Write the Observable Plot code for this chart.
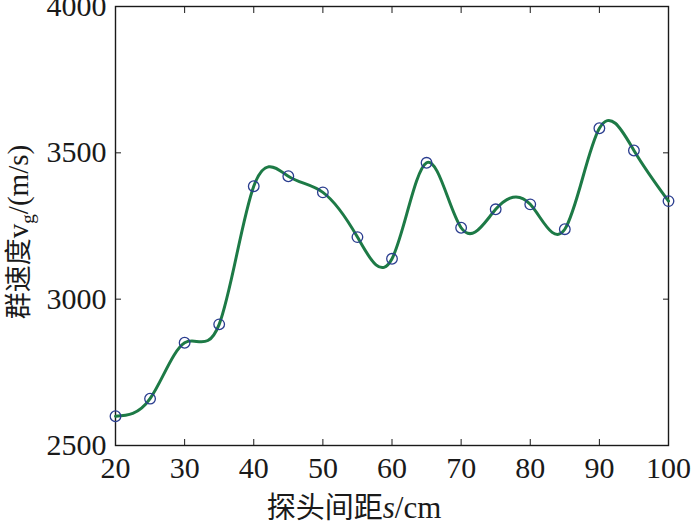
<!DOCTYPE html>
<html>
<head>
<meta charset="utf-8">
<script src="https://cdn.jsdelivr.net/npm/d3@7"></script>
<script src="https://cdn.jsdelivr.net/npm/@observablehq/plot@0.6"></script>
<style>
  html, body { margin: 0; padding: 0; background: #fff; }
  #chart svg { display: block; }
</style>
</head>
<body>
<div id="chart"></div>
<script>
// Probe spacing s (cm)
const spacing = [20, 25, 30, 35, 40, 45, 50, 55, 60, 65, 70, 75, 80, 85, 90, 95, 100];
// Group velocity v_g (m/s)
const groupVelocity = [2600, 2660, 2851, 2914, 3386, 3420, 3365, 3212, 3138, 3466, 3244, 3307, 3324, 3239, 3584, 3508, 3335];
const xTicks = [20, 30, 40, 50, 60, 70, 80, 90, 100];
const yTicks = [2500, 3000, 3500, 4000];

const data = spacing.map((s, i) => ({s, v: groupVelocity[i]}));

const serif = "'Liberation Serif', 'Times New Roman', 'Noto Sans CJK SC', serif";
const fmt = d3.format("d");

const chart = Plot.plot({
  width: 693,
  height: 526,
  marginLeft: 115,
  marginRight: 25,
  marginTop: 6,
  marginBottom: 81,
  style: {fontFamily: serif, fontSize: "30px", color: "#1a1a1a", background: "#fff"},
  x: {domain: [20, 100], ticks: xTicks},
  y: {domain: [2500, 4000], ticks: yTicks},
  marks: [
    Plot.frame({stroke: "#1a1a1a", strokeWidth: 1.4}),
    Plot.axisX(xTicks, {anchor: "bottom", tickSize: 0, tickPadding: 11, label: null, fontSize: 30, tickFormat: fmt}),
    Plot.axisX(xTicks, {anchor: "bottom", tickSize: -6, tickFormat: () => "", label: null}),
    Plot.axisX(xTicks, {anchor: "top", tickSize: -6, tickFormat: () => "", label: null}),
    Plot.axisY(yTicks, {anchor: "left", tickSize: 0, tickPadding: 9, label: null, fontSize: 30, tickFormat: fmt}),
    Plot.axisY(yTicks, {anchor: "left", tickSize: -6, tickFormat: () => "", label: null}),
    Plot.axisY(yTicks, {anchor: "right", tickSize: -6, tickFormat: () => "", label: null}),
    Plot.line(data, {x: "s", y: "v", curve: "natural", stroke: "#1d7a46", strokeWidth: 3}),
    Plot.dot(data, {x: "s", y: "v", r: 5.3, stroke: "#2a3d8f", strokeWidth: 1.3, fill: "none"})
  ]
});

document.getElementById("chart").appendChild(chart);

const svg = d3.select(chart);
// x-axis label
const xl = svg.append("text")
  .attr("x", 354).attr("y", 518)
  .attr("text-anchor", "middle")
  .style("font-family", serif).style("font-size", "31px").attr("fill", "#1a1a1a");
xl.append("tspan").style("font-family", "'Noto Sans CJK SC', sans-serif").style("font-size", "29px").text("探头间距");
xl.append("tspan").style("font-style", "italic").text("s");
xl.append("tspan").text("/cm");

// y-axis label
const yl = svg.append("text")
  .attr("transform", "translate(28,232) rotate(-90)")
  .attr("text-anchor", "middle")
  .style("font-family", serif).style("font-size", "29px").attr("fill", "#1a1a1a");
yl.append("tspan").style("font-family", "'Noto Sans CJK SC', sans-serif").style("font-size", "27px").text("群速度");
yl.append("tspan").text("v");
yl.append("tspan").attr("dy", 6).style("font-size", "19px").text("g");
yl.append("tspan").attr("dy", -6).text("/(m/s)");
</script>
</body>
</html>
